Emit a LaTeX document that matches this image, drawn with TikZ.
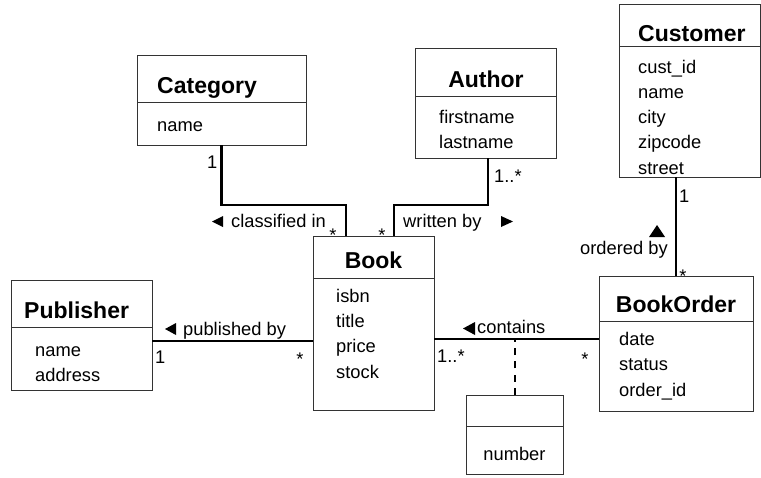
\documentclass[tikz,border=0pt]{standalone}
\usepackage{fontspec}
\setmainfont{Liberation Sans}
\begin{document}
\begin{tikzpicture}[x=1pt,y=-1pt,
  classbox/.style={draw=black!80, line width=0.9pt, anchor=north west, inner sep=0pt, outer sep=0pt},
  divider/.style={draw=black!80, line width=0.9pt},
  ctitle/.style={font=\fontsize{23}{27}\selectfont\bfseries, inner sep=0pt},
  attr/.style={font=\fontsize{18.3}{22}\selectfont, inner sep=0pt, anchor=base west},
  lbl/.style={font=\fontsize{18.3}{22}\selectfont, inner sep=0pt, anchor=base west},
  mult/.style={font=\fontsize{18.3}{22}\selectfont, inner sep=0pt, anchor=base west},
  star/.style={font=\fontsize{18.3}{22}\selectfont, inner sep=0pt, anchor=base},
  assoc/.style={line width=2.4pt},
  linkline/.style={line width=2pt, dash pattern=on 7pt off 6.3pt},
  tri/.style={fill=black}
]
\useasboundingbox (0,0) rectangle (761,477);

% ---- class boxes ----
\node[classbox, minimum width=169pt, minimum height=90pt]  (category)  at (137,55)  {};
\node[classbox, minimum width=141pt, minimum height=110pt] (author)    at (415,48)  {};
\node[classbox, minimum width=141pt, minimum height=173pt] (customer)  at (619,4)   {};
\node[classbox, minimum width=141pt, minimum height=110pt] (publisher) at (11,280)  {};
\node[classbox, minimum width=121pt, minimum height=174pt] (book)      at (313,236) {};
\node[classbox, minimum width=154pt, minimum height=135pt] (bookorder) at (599,276) {};
\node[classbox, minimum width=97pt,  minimum height=79pt]  (linkclass) at (466,395) {};

% compartment dividers
\draw[divider] (category.west |- 0,102)  -- (category.east |- 0,102);
\draw[divider] (author.west |- 0,96)     -- (author.east |- 0,96);
\draw[divider] (customer.west |- 0,46)   -- (customer.east |- 0,46);
\draw[divider] (publisher.west |- 0,327) -- (publisher.east |- 0,327);
\draw[divider] (book.west |- 0,278)      -- (book.east |- 0,278);
\draw[divider] (bookorder.west |- 0,321) -- (bookorder.east |- 0,321);
\draw[divider] (linkclass.west |- 0,426) -- (linkclass.east |- 0,426);

% ---- class names ----
\node[ctitle, anchor=base west] (catname)  at (157,93)    {Category};
\node[ctitle, anchor=base]      (authname) at (486,87)    {Author};
\node[ctitle, anchor=base west] (custname) at (638,41)    {Customer};
\node[ctitle, anchor=base west] (pubname)  at (24,318)    {Publisher};
\node[ctitle, anchor=base]      (bookname) at (373.5,268) {Book};
\node[ctitle, anchor=base]      (ordname)  at (676,312)   {BookOrder};

% ---- attributes ----
\node[attr] (cat1) at (157,131) {name};

\node[attr] (au1) at (439,123) {firstname};
\node[attr] (au2) at (439,148) {lastname};

\node[attr] (cu1) at (638,73)    {cust\_id};
\node[attr] (cu2) at (638,98)    {name};
\node[attr] (cu3) at (638,123.5) {city};
\node[attr] (cu4) at (638,148.5) {zipcode};
\node[attr] (cu5) at (638,174)   {street};

\node[attr] (pu1) at (35,356) {name};
\node[attr] (pu2) at (35,381) {address};

\node[attr] (bk1) at (336,302)   {isbn};
\node[attr] (bk2) at (336,327)   {title};
\node[attr] (bk3) at (336,352.5) {price};
\node[attr] (bk4) at (336,378)   {stock};

\node[attr] (bo1) at (619,345)   {date};
\node[attr] (bo2) at (619,370.5) {status};
\node[attr] (bo3) at (619,396)   {order\_id};

\node[attr, anchor=base] (lc1) at (514.5,460) {number};

% ---- associations ----
\coordinate (catbend)  at ([xshift=-27.5pt]book.north |- 0,205);
\coordinate (authbend) at ([xshift=20.5pt]book.north |- 0,205);
\draw[assoc] (category.south) |- (catbend) -- (catbend |- book.north);
\draw[assoc] ([xshift=2.5pt]author.south) |- (authbend) -- (authbend |- book.north);
\draw[assoc] (bookorder.north) -- (bookorder.north |- customer.south);
\draw[assoc] ([yshift=-6pt]publisher.east) coordinate (pubend) -- (pubend -| book.west);
\draw[assoc] ([yshift=4.5pt]bookorder.west) coordinate (ordend) -- (ordend -| book.east);
\draw[linkline] (linkclass.north) -- (linkclass.north |- ordend);

% ---- association names with direction marks ----
\fill[tri] (212,221.5) -- (223,216) -- (223,227) -- cycle;
\node[lbl] (lclass) at (231,227) {classified in};
\node[lbl] (lwrite) at (403,227) {written by};
\fill[tri] (513,221.5) -- (501,216) -- (501,227) -- cycle;
\fill[tri] (657,225) -- (649,237) -- (665,237) -- cycle;
\node[lbl] (lorder) at (580,254) {ordered by};
\fill[tri] (165,329) -- (176,323) -- (176,335) -- cycle;
\node[lbl] (lpub) at (183,335) {published by};
\fill[tri] (463,328.5) -- (475,322) -- (475,335) -- cycle;
\node[lbl] (lcont) at (477,333) {contains};

% ---- multiplicities ----
\node[mult] (m1) at (207,168) {1};
\node[star] (m2) at (333,241) {*};
\node[star] (m3) at (382,241) {*};
\node[mult] (m4) at (494,182) {1..*};
\node[mult] (m5) at (679,202) {1};
\node[star] (m6) at (683,282) {*};
\node[mult] (m7) at (155,363) {1};
\node[star] (m8) at (300,365) {*};
\node[mult] (m9) at (437,362) {1..*};
\node[star] (m10) at (585,365) {*};
\end{tikzpicture}
\end{document}
